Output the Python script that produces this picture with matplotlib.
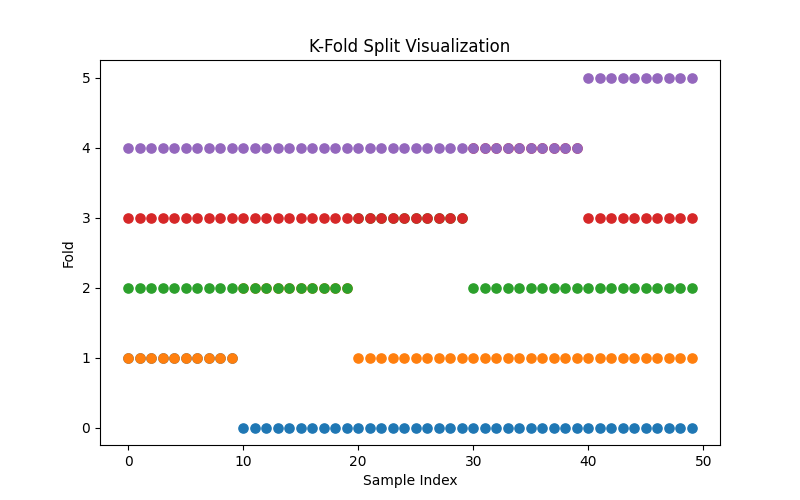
import matplotlib
matplotlib.use("Agg")
import matplotlib.pyplot as plt

n_samples = 50
n_folds = 5
fold_size = 10
fold_ids = list(range(n_folds))
colors = ["C0", "C1", "C2", "C3", "C4"]

fig, ax = plt.subplots(figsize=(8, 5), dpi=100)
all_idx = list(range(n_samples))
for i in fold_ids:
    test = all_idx[i * fold_size:(i + 1) * fold_size]
    train = [k for k in all_idx if k not in test]
    ax.scatter(train, [i] * len(train), color=colors[i], s=44)
    ax.scatter(test, [i + 1] * len(test), color=colors[i], s=44)

ax.set_title("K-Fold Split Visualization")
ax.set_xlabel("Sample Index")
ax.set_ylabel("Fold")
fig.savefig("out.png")
